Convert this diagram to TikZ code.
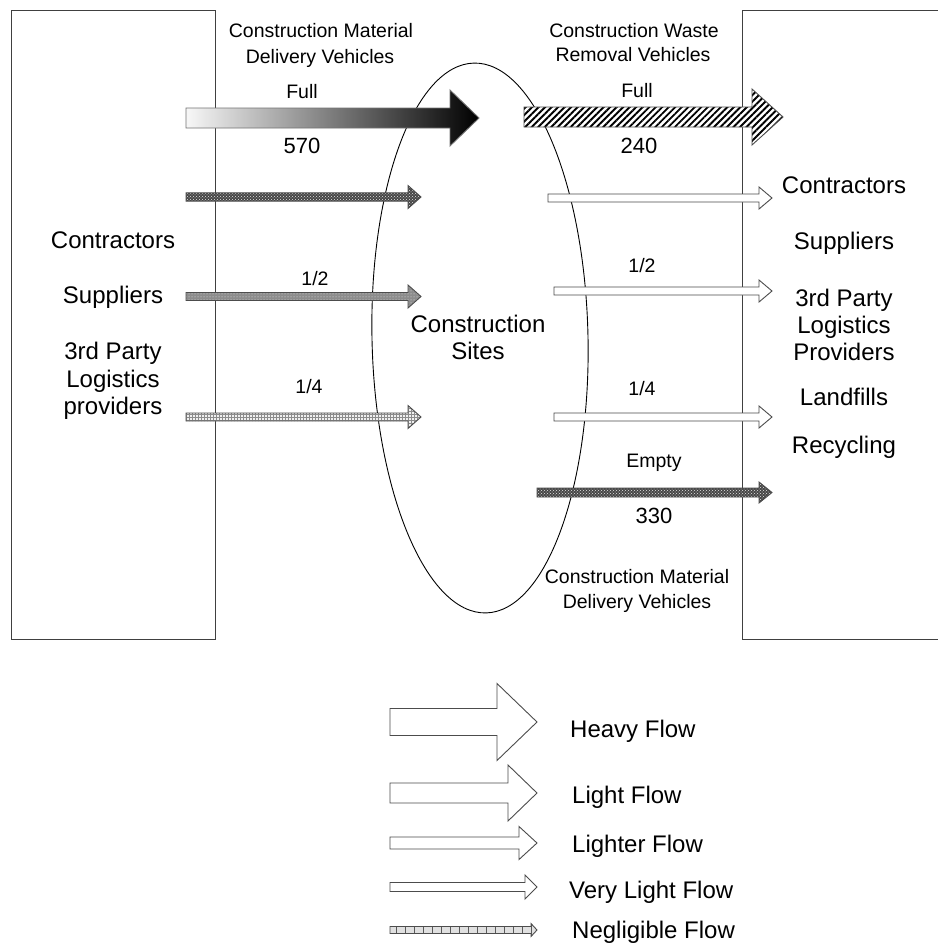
\documentclass[tikz,border=0pt]{standalone}
\usepackage{fontspec}
\setmainfont{Liberation Sans}
\usetikzlibrary{shapes.geometric,patterns,patterns.meta}

% #1 style, #2 tail x, #3 head start x, #4 tip x, #5 centre y, #6 half shaft, #7 half head
\newcommand{\flowarrow}[7][]{%
  \path[#1] (#2,#5-#6) -- (#3,#5-#6) -- (#3,#5-#7) -- (#4,#5) -- (#3,#5+#7) -- (#3,#5+#6) -- (#2,#5+#6) -- cycle;}

\tikzset{
  box/.style={draw=black!75, line width=0.9pt, inner sep=0pt, rectangle},
  site/.style={draw=black, line width=0.9pt, ellipse, inner sep=0pt},
  lblbig/.style={font=\fontsize{24}{28}\selectfont, inner sep=0pt, anchor=base},
  lblsmall/.style={font=\fontsize{19.5}{23}\selectfont, inner sep=0pt, anchor=base},
  lblnum/.style={font=\fontsize{22}{26}\selectfont, inner sep=0pt, anchor=base},
  lbllegend/.style={font=\fontsize{24}{28}\selectfont, inner sep=0pt, anchor=base west},
  arrowline/.style={draw=black!70, line width=0.9pt, line join=miter},
  whitearrow/.style={arrowline, fill=white},
  gradarrow/.style={draw=black!55, line width=0.9pt, left color=black!3, right color=black},
  hatcharrow/.style={arrowline, preaction={fill=white}, pattern={Lines[angle=45,distance=4.6pt,line width=1.9pt]}, pattern color=black},
  darkdots/.style={arrowline, preaction={fill=black!72}, pattern=crosshatch dots, pattern color=black!10},
  middots/.style={arrowline, preaction={fill=black!45}, pattern=dots, pattern color=black!8},
  lightgrid/.style={arrowline, preaction={fill=black!6}, pattern=grid, pattern color=black!45},
  negl/.style={arrowline, preaction={fill=black!12}, pattern={Lines[angle=90,distance=9pt,line width=0.8pt]}, pattern color=black!65},
}

\begin{document}
\begin{tikzpicture}[x=1pt,y=-1pt]
\useasboundingbox (0,0) rectangle (937,945);
\fill[white] (0,0) rectangle (937,945);

% boxes and site
\node[box, minimum width=204pt, minimum height=629pt] (leftbox) at (113,324.5) {};
\node[box, minimum width=210pt, minimum height=629pt] (rightbox) at (847,324.5) {};
\node[site, minimum width=216pt, minimum height=550pt, rotate=1.25] (sites) at (480,338) {};

% top labels
\node[lblsmall] (tl1) at (321,37) {Construction Material};
\node[lblsmall] (tl2) at (320,63) {Delivery Vehicles};
\node[lblsmall] (tr1) at (634,37) {Construction Waste};
\node[lblsmall] (tr2) at (633,61) {Removal Vehicles};

% main arrows
\flowarrow[gradarrow]{186}{450}{479}{118}{10}{28}
\flowarrow[hatcharrow]{524}{752}{783}{117}{10}{28}
\node[lblsmall] (fullL) at (302,98) {Full};
\node[lblnum] (n570) at (302,153) {570};
\node[lblsmall] (fullR) at (637,97) {Full};
\node[lblnum] (n240) at (639,153) {240};

% left small arrows
\flowarrow[darkdots]{186}{408}{421}{197}{4.2}{11.5}
\flowarrow[middots]{186}{408}{421}{296.5}{4}{11.5}
\flowarrow[lightgrid]{186}{408}{421}{417}{4}{11.5}
\node[lblsmall] (halfL) at (315,285) {1/2};
\node[lblsmall] (quarterL) at (309,393) {1/4};

% right small arrows
\flowarrow[whitearrow]{548}{759}{772}{198}{4}{11}
\flowarrow[whitearrow]{554}{759}{772}{291}{4}{11}
\flowarrow[whitearrow]{554}{759}{772}{417}{4}{11}
\flowarrow[darkdots]{537}{759}{772}{492.5}{4.5}{10.5}
\node[lblsmall] (halfR) at (642,272) {1/2};
\node[lblsmall] (quarterR) at (642,395) {1/4};
\node[lblsmall] (empty) at (654,467) {Empty};
\node[lblnum] (n330) at (654,523) {330};

% left labels
\node[lblbig] (lc) at (113,248) {Contractors};
\node[lblbig] (ls) at (113,303) {Suppliers};
\node[lblbig] (lp1) at (113,359) {3rd Party};
\node[lblbig] (lp2) at (113,387) {Logistics};
\node[lblbig] (lp3) at (113,414) {providers};

% site labels
\node[lblbig] (cs1) at (478,332) {Construction};
\node[lblbig] (cs2) at (478,359) {Sites};

% right labels
\node[lblbig] (rc) at (844,193) {Contractors};
\node[lblbig] (rs) at (844,249) {Suppliers};
\node[lblbig] (rp1) at (844,306) {3rd Party};
\node[lblbig] (rp2) at (844,333) {Logistics};
\node[lblbig] (rp3) at (844,360) {Providers};
\node[lblbig] (rl) at (844,405) {Landfills};
\node[lblbig] (rr) at (844,453) {Recycling};

% bottom labels
\node[lblsmall] (bl1) at (637,583) {Construction Material};
\node[lblsmall] (bl2) at (637,608) {Delivery Vehicles};

% legend
\flowarrow[whitearrow]{390}{497}{537}{722}{13.5}{38.5}
\flowarrow[whitearrow]{390}{508}{537}{793}{10}{28}
\flowarrow[whitearrow]{390}{519}{537}{843}{6}{16.5}
\flowarrow[whitearrow]{390}{525}{537}{887}{4.5}{12}
\flowarrow[negl]{390}{531}{537}{930}{3.5}{6.5}
\node[lbllegend] (lg1) at (570,737) {Heavy Flow};
\node[lbllegend] (lg2) at (572,803) {Light Flow};
\node[lbllegend] (lg3) at (572,852) {Lighter Flow};
\node[lbllegend] (lg4) at (569,898) {Very Light Flow};
\node[lbllegend] (lg5) at (572,938) {Negligible Flow};
\end{tikzpicture}
\end{document}
